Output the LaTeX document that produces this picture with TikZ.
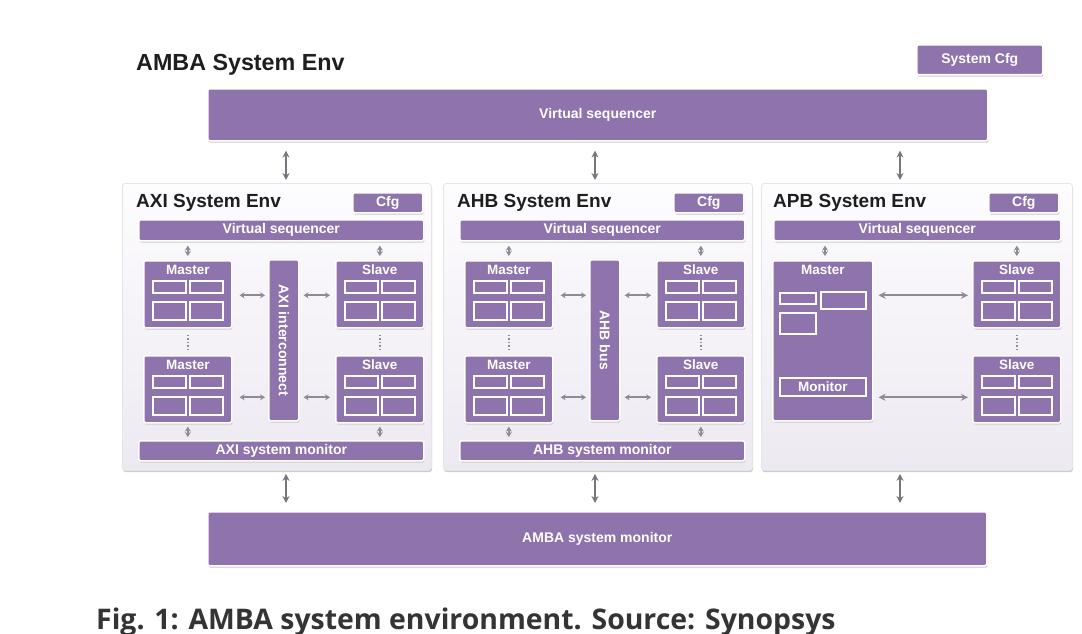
\documentclass[tikz,border=0pt]{standalone}
\usepackage{fontspec}
\setmainfont{Liberation Sans}
\newfontfamily\capfont{Open Sans}
\usetikzlibrary{arrows.meta,calc}
\definecolor{purp}{RGB}{142,115,172}
\definecolor{envtop}{RGB}{253,252,254}
\definecolor{envbot}{RGB}{237,233,242}
\definecolor{arrgray}{RGB}{118,118,124}
\definecolor{sarrgray}{RGB}{140,140,146}
\definecolor{ttl}{RGB}{30,30,30}
\definecolor{capgray}{RGB}{52,52,52}
\tikzset{
  shd/.style={preaction={fill=black!20, transform canvas={xshift=0.6pt,yshift=-1.8pt}}},
  pbox/.style={shd, fill=purp, draw=white, line width=1.6pt, rounded corners=1.5pt, inner sep=0pt, anchor=north west},
  ibox/.style={fill=purp, draw=white, line width=1.6pt, inner sep=0pt, anchor=north west},
  envbox/.style={shd, draw=black!10, line width=0.8pt, top color=envtop, bottom color=envbot, rounded corners=3pt, inner sep=0pt, anchor=north west},
  wlbl/.style={text=white, font=\bfseries\fontsize{14}{16}\selectfont, inner sep=0pt},
  modlbl/.style={text=white, font=\bfseries\fontsize{13.5}{15}\selectfont, inner sep=0pt},
  envttl/.style={text=ttl, font=\bfseries\fontsize{19}{22}\selectfont, inner sep=0pt, anchor=west},
  barr/.style={{Stealth[length=7pt,width=7pt]}-{Stealth[length=7pt,width=7pt]}, draw=arrgray, line width=2pt},
  sarr/.style={{Stealth[length=5pt,width=6pt]}-{Stealth[length=5pt,width=6pt]}, draw=sarrgray, line width=2pt},
  larr/.style={{Stealth[length=7pt,width=7pt]}-{Stealth[length=7pt,width=7pt]}, draw=sarrgray, line width=2pt},
  dotl/.style={draw=sarrgray, line width=1.5pt, dotted, shorten <=6pt, shorten >=6pt}
}
\newcommand\modbox[4]{%
  \node[pbox, minimum width=88pt, minimum height=67pt] (#1) at (#2,#3) {};
  \node[modlbl] (#1t) at ([yshift=-10pt]#1.north) {#4};
  \node[ibox, minimum width=33pt, minimum height=12pt] (#1a) at ([xshift=9pt,yshift=-20pt]#1.north west) {};
  \node[ibox, minimum width=33pt, minimum height=12pt] (#1b) at ([xshift=46pt,yshift=-20pt]#1.north west) {};
  \node[ibox, minimum width=33pt, minimum height=18pt] (#1c) at ([xshift=9pt,yshift=-41pt]#1.north west) {};
  \node[ibox, minimum width=33pt, minimum height=18pt] (#1d) at ([xshift=46pt,yshift=-41pt]#1.north west) {};
  \coordinate (#1e) at ([yshift=-1pt]#1.east);
  \coordinate (#1w) at ([yshift=-1pt]#1.west);
  \coordinate (#1le) at ([yshift=-8pt]#1.east);
  \coordinate (#1lw) at ([yshift=-8pt]#1.west);
}
\newcommand\busenv[5]{%
  \node[envbox, minimum width=309pt, minimum height=287pt] (#1env) at (122+#2,183) {};
  \node[envttl] (#1ttl) at (136+#2,203) {#3};
  \node[pbox, wlbl, minimum width=70pt, minimum height=20pt] (#1cfg) at (352+#2,192) {Cfg};
  \node[pbox, wlbl, minimum width=285pt, minimum height=21pt] (#1vs) at (138+#2,219) {Virtual sequencer};
  \modbox{#1m1}{143+#2}{260}{Master}
  \modbox{#1m2}{143+#2}{355}{Master}
  \modbox{#1s1}{335+#2}{260}{Slave}
  \modbox{#1s2}{335+#2}{355}{Slave}
  \node[pbox, minimum width=30pt, minimum height=161pt] (#1bus) at (268+#2,259) {};
  \node[wlbl, rotate=-90] (#1bust) at (#1bus.center) {#4};
  \node[pbox, wlbl, minimum width=285pt, minimum height=20pt] (#1mon) at (138+#2,440) {#5};
  \draw[sarr, shorten <=4pt, shorten >=4pt] (#1vs.south -| #1m1.north) -- (#1m1.north);
  \draw[sarr, shorten <=4pt, shorten >=4pt] (#1vs.south -| #1s1.north) -- (#1s1.north);
  \draw[sarr, shorten <=3pt, shorten >=3pt] (#1m2.south) -- (#1mon.north -| #1m2.south);
  \draw[sarr, shorten <=3pt, shorten >=3pt] (#1s2.south) -- (#1mon.north -| #1s2.south);
  \draw[sarr, shorten <=7pt, shorten >=3pt] (#1m1e) -- (#1bus.west |- #1m1e);
  \draw[sarr, shorten <=4pt, shorten >=5pt] (#1bus.east |- #1s1w) -- (#1s1w);
  \draw[sarr, shorten <=7pt, shorten >=3pt] (#1m2le) -- (#1bus.west |- #1m2le);
  \draw[sarr, shorten <=4pt, shorten >=5pt] (#1bus.east |- #1s2lw) -- (#1s2lw);
  \draw[dotl] (#1m1.south) -- (#1m2.north);
  \draw[dotl] (#1s1.south) -- (#1s2.north);
}
\begin{document}
\begin{tikzpicture}[x=1pt,y=-1pt]
\useasboundingbox[fill=white] (0,0) rectangle (1082,634);
% top level
\node[text=ttl, font=\bfseries\fontsize{23.3}{26}\selectfont, inner sep=0pt, anchor=west] (title) at (136,65) {AMBA System Env};
\node[pbox, wlbl, minimum width=126pt, minimum height=30pt] (syscfg) at (916,44) {System Cfg};
\node[pbox, wlbl, minimum width=780pt, minimum height=52pt] (vstop) at (207,88) {Virtual sequencer};
\node[pbox, wlbl, minimum width=779pt, minimum height=54pt] (ambamon) at (207,511) {AMBA system monitor};
% AXI and AHB
\busenv{axi}{0}{AXI System Env}{AXI interconnect}{AXI system monitor}
\busenv{ahb}{321}{AHB System Env}{AHB bus}{AHB system monitor}
% APB
\node[envbox, minimum width=311pt, minimum height=287pt] (apbenv) at (761,183) {};
\node[envttl] (apbttl) at (773,203) {APB System Env};
\node[pbox, wlbl, minimum width=70pt, minimum height=20pt] (apbcfg) at (988,192) {Cfg};
\node[pbox, wlbl, minimum width=287pt, minimum height=21pt] (apbvs) at (773,219) {Virtual sequencer};
\node[pbox, minimum width=100pt, minimum height=160pt] (apbm) at (772,260) {};
\node[modlbl] (apbmt) at ([yshift=-10pt]apbm.north) {Master};
\node[ibox, minimum width=36pt, minimum height=11pt] (apbma) at (779,292) {};
\node[ibox, minimum width=45pt, minimum height=17pt] (apbmb) at (820,291) {};
\node[ibox, minimum width=36pt, minimum height=21pt] (apbmc) at (779,312) {};
\node[ibox, modlbl, minimum width=86pt, minimum height=18pt] (apbmon) at (779,377) {Monitor};
\modbox{apbs1}{972}{260}{Slave}
\modbox{apbs2}{972}{355}{Slave}
\coordinate (c0) at (825,0);
\draw[sarr, shorten <=4pt, shorten >=4pt] (apbvs.south -| c0) -- (apbm.north -| c0);
\draw[sarr, shorten <=4pt, shorten >=4pt] (apbvs.south -| apbs1.north) -- (apbs1.north);
\draw[larr, shorten <=5pt, shorten >=4pt] (apbm.east |- apbs1w) -- (apbs1w);
\draw[larr, shorten <=5pt, shorten >=4pt] (apbm.east |- apbs2lw) -- (apbs2lw);
\draw[dotl] (apbs1.south) -- (apbs2.north);
% top-level arrows
\coordinate (c1) at (286,0);
\coordinate (c2) at (595,0);
\coordinate (c3) at (900,0);
\draw[barr, shorten <=9pt, shorten >=3pt] (vstop.south -| c1) -- (axienv.north -| c1);
\draw[barr, shorten <=9pt, shorten >=3pt] (vstop.south -| c2) -- (ahbenv.north -| c2);
\draw[barr, shorten <=9pt, shorten >=3pt] (vstop.south -| c3) -- (apbenv.north -| c3);
\draw[barr, shorten <=3pt, shorten >=8pt] (axienv.south -| c1) -- (ambamon.north -| c1);
\draw[barr, shorten <=3pt, shorten >=8pt] (ahbenv.south -| c2) -- (ambamon.north -| c2);
\draw[barr, shorten <=3pt, shorten >=8pt] (apbenv.south -| c3) -- (ambamon.north -| c3);
% caption
\node[anchor=base west, text=capgray, font=\capfont\bfseries\fontsize{28.4}{31}\selectfont, inner sep=0pt] (cap) at (96,629) {Fig. 1: AMBA system environment. Source: Synopsys};
\end{tikzpicture}
\end{document}
